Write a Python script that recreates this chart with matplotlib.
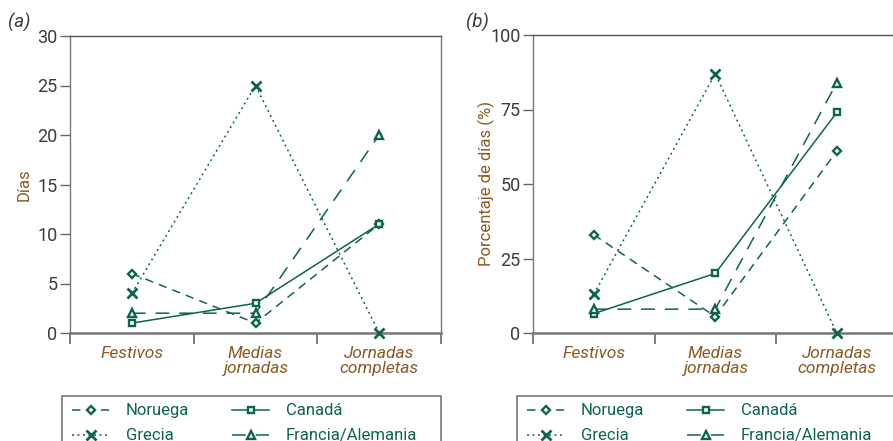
import numpy as np
import matplotlib
matplotlib.use("Agg")
from matplotlib import pyplot as plt
from matplotlib.patches import Rectangle

plt.rcParams['font.family'] = ['Roboto', 'DejaVu Sans']

categorias = ["Festivos", "Medias\njornadas", "Jornadas\ncompletas"]
series = ["Noruega", "Grecia", "Canadá", "Francia/Alemania"]

# (a) dias
dias_noruega = [6, 1, 11]
dias_grecia = [4, 25, 0]
dias_canada = [1, 3, 11]
dias_francia = [2, 2, 20]

# (b) porcentaje de dias
pct_noruega = [33, 5.5, 61]
pct_grecia = [13, 87, 0]
pct_canada = [6.5, 20, 74]
pct_francia = [8, 8, 84]

verde = '#0d6451'
marron = '#8b5a24'
gris = '#3c3c3c'

estilos = {
    "Noruega": dict(ls=(0, (5.5, 4)), marker='D', ms=4, mew=1.7),
    "Grecia": dict(ls=(0, (1.3, 2.3)), marker='x', ms=7, mew=2.0),
    "Canadá": dict(ls='-', marker='s', ms=5, mew=1.7),
    "Francia/Alemania": dict(ls=(0, (9, 6.5)), marker='^', ms=6, mew=1.7),
}

fig = plt.figure(figsize=(8.93, 4.41), dpi=100)
ax1 = fig.add_axes([70/893, 1-333/441, 371/893, 297/441])
ax2 = fig.add_axes([533/893, 1-333/441, 364.5/893, 298/441])

x = np.array([0.5, 1.5, 2.5])

def panel(ax, datos, ylim, yticks, ylabel, labelx):
    lineas = []
    for nombre, vals in zip(series, datos):
        st = estilos[nombre]
        l, = ax.plot(x, vals, color=verde, lw=1.1, ls=st['ls'], marker=st['marker'],
                     ms=st['ms'], mfc='white', mec=verde, mew=st['mew'],
                     label=nombre, clip_on=False, zorder=3)
        lineas.append(l)
    ax.set_xlim(0, 3)
    ax.set_ylim(*ylim)
    ax.set_yticks(yticks)
    ax.set_xticks([0, 1, 2, 3])
    ax.set_xticklabels([])
    ax.set_xticks(x, minor=True)
    ax.set_xticklabels(categorias, minor=True, style='italic', color=marron,
                       fontsize=12.5, linespacing=1.0)
    ax.tick_params(axis='x', which='minor', length=0, pad=9)
    ax.tick_params(axis='x', which='major', length=8, width=1.2, color='#666666', direction='out')
    ax.tick_params(axis='y', length=7, width=1, color='#666666', labelsize=13,
                   labelcolor=gris, pad=2)
    for s in ax.spines.values():
        s.set_color('#777777')
        s.set_linewidth(1.0)
    ax.spines['bottom'].set_linewidth(1.8)
    ax.spines['top'].set_color('#555555')
    ax.set_ylabel(ylabel, color=marron, fontsize=12)
    ax.yaxis.set_label_coords(labelx, 0.5)
    return lineas

lin1 = panel(ax1, [dias_noruega, dias_grecia, dias_canada, dias_francia],
             (0, 30), [0, 5, 10, 15, 20, 25, 30], "Días", (32-70)/371)
lin2 = panel(ax2, [pct_noruega, pct_grecia, pct_canada, pct_francia],
             (0, 100), [0, 25, 50, 75, 100], "Porcentaje de días (%)", (495-533)/364.5)

fig.text(8/893, 1-22/441, "(a)", style='italic', fontsize=13.5, color=gris, va='center')
fig.text(466/893, 1-22/441, "(b)", style='italic', fontsize=13.5, color=gris, va='center')

# leyendas
for lineas, x0, x1 in [(lin1, 62, 441), (lin2, 517, 905)]:
    fig.patches.append(Rectangle((x0/893, -0.05), (x1-x0)/893, (0.05 + 1-396/441),
                                 transform=fig.transFigure, fill=False,
                                 edgecolor='#777777', lw=1.2))
    fig.legend(lineas, series, loc='upper left', bbox_to_anchor=((x0+7)/893, 1-400/441),
               ncol=2, frameon=False, fontsize=12, handlelength=2.2, handletextpad=1.0,
               columnspacing=2.6, labelspacing=0.6, numpoints=1, labelcolor=verde,
               borderaxespad=0, borderpad=0.2)

fig.savefig("out.png", dpi=100)
